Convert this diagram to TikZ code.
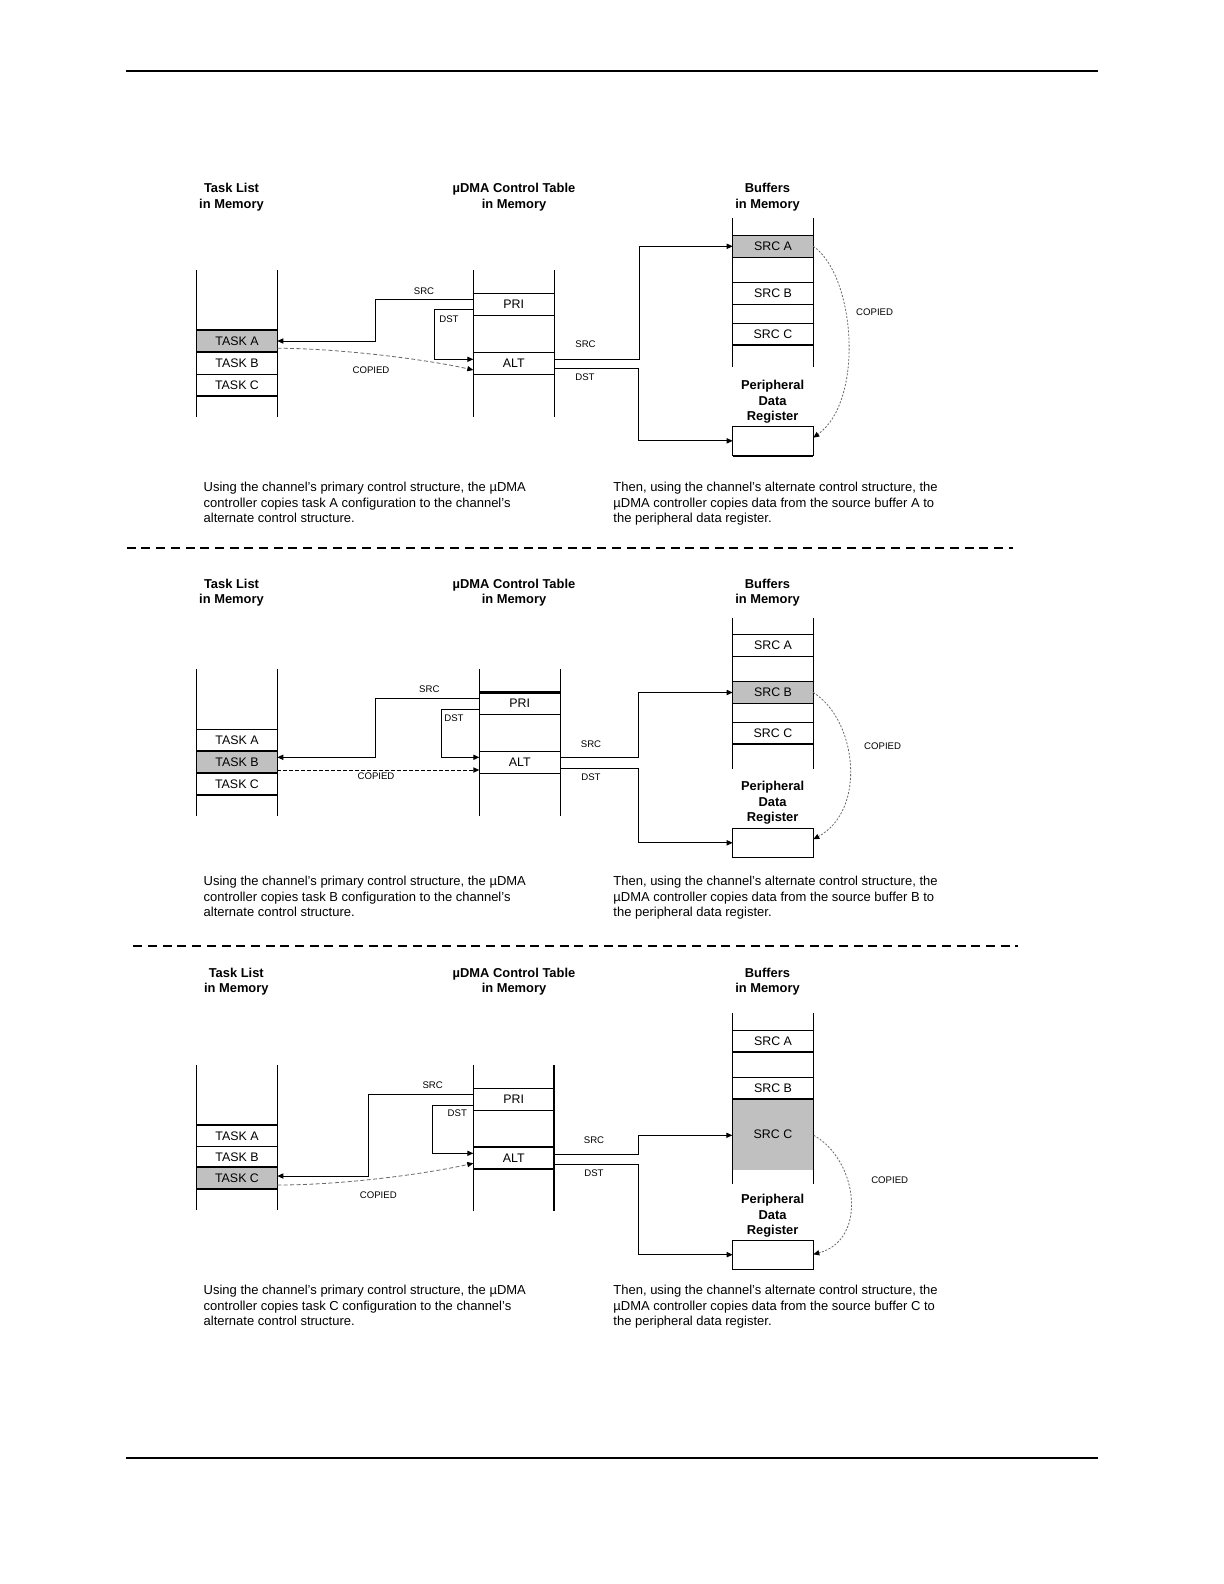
\documentclass[tikz,border=0pt]{standalone}
\usepackage{fontspec}
\setmainfont{Liberation Sans}
\usetikzlibrary{arrows.meta}
\definecolor{hl}{RGB}{192,192,192}
\definecolor{cp}{RGB}{105,105,105}
\begin{document}
\begin{tikzpicture}[x=0.5pt,y=-0.5pt,
 col/.style={line width=0.5pt},
 thk/.style={line width=1.1pt},
 cell/.style={draw, line width=0.5pt, minimum width=40.3pt, minimum height=11pt, inner sep=0pt, outer sep=0pt, font=\fontsize{6.2}{7}\selectfont},
 ctl/.style={cell, minimum width=40.5pt},
 hlc/.style={cell, fill=hl},
 lbl/.style={font=\fontsize{4.8}{5.5}\selectfont, inner sep=0pt},
 hdr/.style={font=\fontsize{6.45}{7.85}\selectfont\bfseries, align=center, inner sep=0pt},
 desc/.style={font=\fontsize{6.5}{7.75}\selectfont, align=left, anchor=north west, inner sep=0pt},
 conn/.style={line width=0.5pt, -{Triangle[length=3pt,width=2.6pt,color=black]}},
 cpy/.style={conn, draw=cp, line width=0.4pt, dash pattern=on 2pt off 1.2pt},
 cpyb/.style={conn, dash pattern=on 2pt off 1pt},
 cpyr/.style={conn, draw=cp, line width=0.4pt, dash pattern=on 1pt off 0.8pt},
 rule/.style={line width=1pt},
 sep/.style={line width=1pt, dash pattern=on 4.5pt off 2.85pt},
]
\useasboundingbox (0,0) rectangle (1224,1584);
\fill[white] (0,0) rectangle (1224,1584);

% page rules
\draw[rule] (126,70.7) -- (1098.3,70.7);
\draw[rule] (126,1457.5) -- (1098.3,1457.5);
\draw[sep] (126.7,547.5) -- (1012.7,547.5);
\draw[sep] (133.3,946.3) -- (1018,946.3);

% ================= PANEL 1 =================
\node[hdr] (h11) at (231.5,197.2) {Task List\\in Memory};
\node[hdr] (h12) at (514,197.2) {µDMA Control Table\\in Memory};
\node[hdr] (h13) at (767.5,197.2) {Buffers\\in Memory};

\node[hlc] (ta1) at (237,341) {TASK A};
\node[cell] (tb1) at (237,363) {TASK B};
\node[cell] (tc1) at (237,385) {TASK C};
\draw[col] (196.7,270) -- (196.7,416.7);
\draw[col] (277.3,270) -- (277.3,416.7);
\draw[thk] (ta1.north west) -- (ta1.north east);
\draw[thk] (ta1.south west) -- (ta1.south east);
\draw[thk] (tc1.south west) -- (tc1.south east);

\node[ctl] (pri1) at (513.8,304.3) {PRI};
\node[ctl] (alt1) at (513.8,363.15) {ALT};
\draw[col] (473.3,270) -- (473.3,416.7);
\draw[col] (554.3,270) -- (554.3,416.7);

\node[hlc] (sa1) at (773,246.3) {SRC A};
\node[cell] (sb1) at (773,293.5) {SRC B};
\node[cell] (sc1) at (773,334) {SRC C};
\draw[col] (732.7,218.3) -- (732.7,366.7);
\draw[col] (813.3,218.3) -- (813.3,366.7);
\draw[thk] (sc1.south west) -- (sc1.south east);

\node[hdr] (pd1) at (772.6,401.8) {Peripheral\\Data\\Register};
\node[cell, minimum height=14.85pt] (reg1) at (773,440.85) {};
\draw[thk] (reg1.south west) -- (reg1.south east);

\draw[conn] (pri1.west |- 0,299.3) -| (375,341) -- (ta1.east);
\draw[conn] (pri1.west |- 0,309.3) -| (434.3,359.3) -- (alt1.west |- 0,359.3);
\draw[cpy] (ta1.east |- 0,348.3) .. controls (330,348) and (420,358) .. (alt1.west |- 0,370);
\draw[conn] (alt1.east |- 0,359.3) -| (639.3,246.3) -- (sa1.west);
\draw[conn] (alt1.east |- 0,368.3) -| (638.3,440.85) -- (reg1.west);
\draw[cpyr] (sa1.east) .. controls (855,275) and (865,400) .. (reg1.east |- 0,437.7);

\node[lbl] (l11) at (424,290.7) {SRC};
\node[lbl] (l12) at (449,319) {DST};
\node[lbl] (l13) at (371,370) {COPIED};
\node[lbl] (l14) at (585.5,344.3) {SRC};
\node[lbl] (l15) at (585,377.3) {DST};
\node[lbl] (l16) at (874.6,312.5) {COPIED};

\node[desc] (d11) at (203.3,482) {Using the channel’s primary control structure, the µDMA\\controller copies task A configuration to the channel’s\\alternate control structure.};
\node[desc] (d12) at (613,482) {Then, using the channel’s alternate control structure, the\\µDMA controller copies data from the source buffer A to\\the peripheral data register.};

% ================= PANEL 2 =================
\node[hdr] (h21) at (231.5,592.8) {Task List\\in Memory};
\node[hdr] (h22) at (514,592.8) {µDMA Control Table\\in Memory};
\node[hdr] (h23) at (767.5,592.8) {Buffers\\in Memory};

\node[cell] (ta2) at (237,740) {TASK A};
\node[hlc] (tb2) at (237,761.85) {TASK B};
\node[cell] (tc2) at (237,784) {TASK C};
\draw[col] (196.7,669) -- (196.7,815.7);
\draw[col] (277.3,669) -- (277.3,815.7);
\draw[thk] (tb2.north west) -- (tb2.north east);
\draw[thk] (tb2.south west) -- (tb2.south east);
\draw[thk] (tc2.south west) -- (tc2.south east);

\node[ctl] (pri2) at (519.8,703.5) {PRI};
\node[ctl] (alt2) at (519.8,762.3) {ALT};
\draw[col] (479.3,669) -- (479.3,815.7);
\draw[col] (560.3,669) -- (560.3,815.7);
\draw[thk] (pri2.north west) -- (pri2.north east);

\node[cell] (sa2) at (773,645.15) {SRC A};
\node[hlc] (sb2) at (773,692.5) {SRC B};
\node[cell] (sc2) at (773,733.35) {SRC C};
\draw[col] (732.7,617.7) -- (732.7,769);
\draw[col] (813.3,617.7) -- (813.3,769);
\draw[thk] (sc2.south west) -- (sc2.south east);

\node[hdr] (pd2) at (772.6,802.7) {Peripheral\\Data\\Register};
\node[cell, minimum height=14.5pt] (reg2) at (773,842.8) {};

\draw[conn] (pri2.west |- 0,698.3) -| (375,757.3) -- (tb2.east |- 0,757.3);
\draw[conn] (pri2.west |- 0,709.3) -| (441.3,757.3) -- (alt2.west |- 0,757.3);
\draw[cpyb] (tb2.east |- 0,770) -- (alt2.west |- 0,770);
\draw[conn] (alt2.east |- 0,757.3) -| (638.3,692.5) -- (sb2.west);
\draw[conn] (alt2.east |- 0,768.3) -| (638.3,842.8) -- (reg2.west);
\draw[cpyr] (sb2.east) .. controls (857,720) and (867,810) .. (reg2.east |- 0,839.3);

\node[lbl] (l21) at (429.3,689.3) {SRC};
\node[lbl] (l22) at (454,717.7) {DST};
\node[lbl] (l23) at (376,776.3) {COPIED};
\node[lbl] (l24) at (591,744) {SRC};
\node[lbl] (l25) at (591,776.7) {DST};
\node[lbl] (l26) at (882.6,746.5) {COPIED};

\node[desc] (d21) at (203.3,875.8) {Using the channel’s primary control structure, the µDMA\\controller copies task B configuration to the channel’s\\alternate control structure.};
\node[desc] (d22) at (613,875.8) {Then, using the channel’s alternate control structure, the\\µDMA controller copies data from the source buffer B to\\the peripheral data register.};

% ================= PANEL 3 =================
\node[hdr] (h31) at (236.3,981.6) {Task List\\in Memory};
\node[hdr] (h32) at (514,981.6) {µDMA Control Table\\in Memory};
\node[hdr] (h33) at (767.5,981.6) {Buffers\\in Memory};

\node[cell] (ta3) at (237,1135.85) {TASK A};
\node[cell] (tb3) at (237,1157) {TASK B};
\node[hlc] (tc3) at (237,1178.3) {TASK C};
\draw[col] (196.7,1065) -- (196.7,1209.8);
\draw[col] (277.3,1065) -- (277.3,1209.8);
\draw[thk] (ta3.north west) -- (ta3.north east);
\draw[thk] (tc3.north west) -- (tc3.north east);
\draw[thk] (tc3.south west) -- (tc3.south east);

\node[ctl] (pri3) at (513.8,1099.3) {PRI};
\node[ctl] (alt3) at (513.8,1157.85) {ALT};
\draw[col] (473.3,1065) -- (473.3,1211);
\draw[thk] (554.3,1065) -- (554.3,1211);
\draw[thk] (alt3.north west) -- (alt3.north east);
\draw[thk] (alt3.south west) -- (alt3.south east);

\node[cell] (sa3) at (773,1041.15) {SRC A};
\node[cell] (sb3) at (773,1088) {SRC B};
\node[fill=hl, minimum width=40.3pt, minimum height=35.65pt, inner sep=0pt, font=\fontsize{6.2}{7}\selectfont] (sc3) at (773,1134.35) {SRC C};
\draw[col] (732.7,1013.3) -- (732.7,1184);
\draw[col] (813.3,1013.3) -- (813.3,1184);
\draw[thk] (sa3.south west) -- (sa3.south east);
\draw[thk] (sb3.south west) -- (sb3.south east);

\node[hdr] (pd3) at (772.6,1215.8) {Peripheral\\Data\\Register};
\node[cell, minimum height=14.65pt] (reg3) at (773,1254.65) {};

\draw[conn] (pri3.west |- 0,1094.3) -| (368.7,1176) -- (tc3.east |- 0,1176);
\draw[conn] (pri3.west |- 0,1105.3) -| (432.7,1153.3) -- (alt3.west |- 0,1153.3);
\draw[cpy] (tc3.east |- 0,1185) .. controls (340,1185) and (420,1175) .. (alt3.west |- 0,1163.3);
\draw[conn] (alt3.east |- 0,1154.3) -| (638.3,1135.3) -- (sc3.west |- 0,1135.3);
\draw[conn] (alt3.east |- 0,1164) -| (638.3,1254.65) -- (reg3.west);
\draw[cpyr] (sc3.east |- 0,1135.3) .. controls (858,1160) and (868,1240) .. (reg3.east |- 0,1254.3);

\node[lbl] (l31) at (432.7,1085.3) {SRC};
\node[lbl] (l32) at (457.3,1112.7) {DST};
\node[lbl] (l33) at (378.3,1195.3) {COPIED};
\node[lbl] (l34) at (594,1140) {SRC};
\node[lbl] (l35) at (594,1172.7) {DST};
\node[lbl] (l36) at (889.7,1180) {COPIED};

\node[desc] (d31) at (203.3,1284.8) {Using the channel’s primary control structure, the µDMA\\controller copies task C configuration to the channel’s\\alternate control structure.};
\node[desc] (d32) at (613,1284.8) {Then, using the channel’s alternate control structure, the\\µDMA controller copies data from the source buffer C to\\the peripheral data register.};
\end{tikzpicture}
\end{document}
